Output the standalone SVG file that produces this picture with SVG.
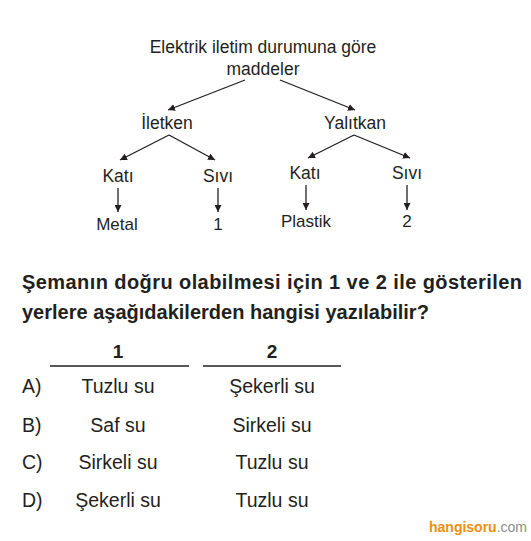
<svg xmlns="http://www.w3.org/2000/svg" width="531" height="541" viewBox="0 0 531 541">
<style>
text{font-family:"Liberation Sans",Arial,sans-serif;fill:#231f20}
.t{font-size:17.5px;text-anchor:middle}
.s{font-size:17px;text-anchor:middle}
.q{font-size:20px;font-weight:bold}
.a{font-size:19.5px}
.c{font-size:19.5px;text-anchor:middle}
.h{font-size:19px;font-weight:bold;text-anchor:middle}
.ln{stroke:#231f20;stroke-width:1.3;fill:none}
</style>
<defs>
<marker id="ah" viewBox="0 0 10 10" refX="10" refY="5" markerWidth="7" markerHeight="7" markerUnits="userSpaceOnUse" orient="auto">
<path d="M0,0 L10,5 L0,10 z" fill="#231f20"/>
</marker>
</defs>
<rect width="531" height="541" fill="#ffffff"/>
<g id="root"><text class="t" x="263" y="53">Elektrik iletim durumuna göre</text><text class="t" x="263" y="75">maddeler</text></g>
<g id="iletken"><text class="t" x="167" y="129">İletken</text></g>
<g id="yalitkan"><text class="t" x="355" y="129">Yalıtkan</text></g>
<g id="kati1"><text class="t" x="118" y="182">Katı</text></g>
<g id="sivi1"><text class="t" x="218" y="182">Sıvı</text></g>
<g id="kati2"><text class="t" x="305" y="179">Katı</text></g>
<g id="sivi2"><text class="t" x="407" y="179">Sıvı</text></g>
<g id="metal"><text class="s" x="117" y="230">Metal</text></g>
<g id="n1"><text class="s" x="218" y="230">1</text></g>
<g id="plastik"><text class="s" x="306" y="227">Plastik</text></g>
<g id="n2"><text class="s" x="407" y="227">2</text></g>
<g id="connectors" class="ln">
<line x1="245" y1="80" x2="168" y2="110" marker-end="url(#ah)"/>
<line x1="280" y1="80" x2="355" y2="110" marker-end="url(#ah)"/>
<line x1="169" y1="135" x2="120" y2="160" marker-end="url(#ah)"/>
<line x1="169" y1="135" x2="215" y2="160" marker-end="url(#ah)"/>
<line x1="354" y1="135" x2="308" y2="158" marker-end="url(#ah)"/>
<line x1="354" y1="135" x2="410" y2="158" marker-end="url(#ah)"/>
<line x1="118" y1="188" x2="118" y2="212" marker-end="url(#ah)"/>
<line x1="218" y1="188" x2="218" y2="212" marker-end="url(#ah)"/>
<line x1="306" y1="185" x2="306" y2="210" marker-end="url(#ah)"/>
<line x1="407" y1="185" x2="407" y2="210" marker-end="url(#ah)"/>
</g>
<text class="q" x="22" y="289" textLength="500" lengthAdjust="spacing">Şemanın doğru olabilmesi için 1 ve 2 ile gösterilen</text>
<text class="q" x="22" y="319">yerlere aşağıdakilerden hangisi yazılabilir?</text>
<text class="h" x="118" y="358">1</text>
<text class="h" x="272" y="358">2</text>
<line x1="50" y1="366" x2="189" y2="366" stroke="#231f20" stroke-width="1.6"/>
<line x1="203" y1="366" x2="341" y2="366" stroke="#231f20" stroke-width="1.6"/>
<text class="a" x="22" y="393">A)</text><text class="c" x="118" y="393">Tuzlu su</text><text class="c" x="272" y="393">Şekerli su</text>
<text class="a" x="22" y="432">B)</text><text class="c" x="118" y="432">Saf su</text><text class="c" x="272" y="432">Sirkeli su</text>
<text class="a" x="22" y="469">C)</text><text class="c" x="118" y="469">Sirkeli su</text><text class="c" x="272" y="469">Tuzlu su</text>
<text class="a" x="22" y="507">D)</text><text class="c" x="118" y="507">Şekerli su</text><text class="c" x="272" y="507">Tuzlu su</text>
<text x="429" y="532" font-size="14"><tspan font-weight="bold" style="fill:#ee8e10">hangisoru</tspan><tspan style="fill:#8c8c8c">.com</tspan></text>
</svg>
